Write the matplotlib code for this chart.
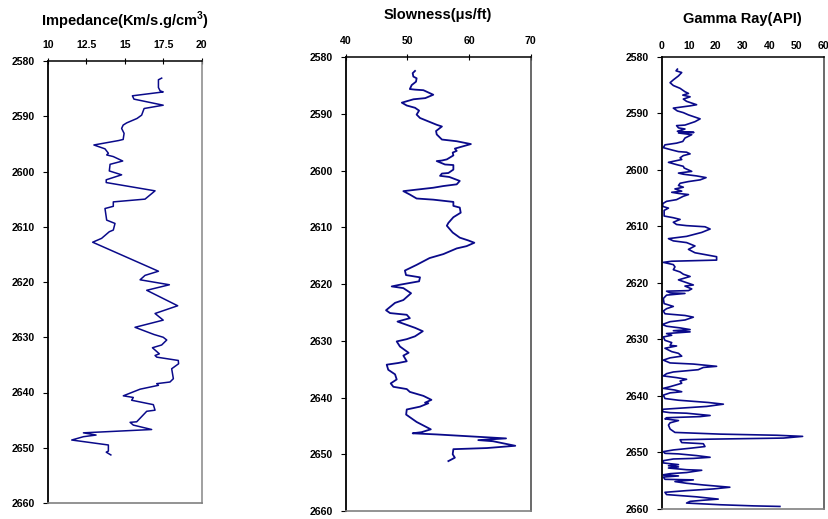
import matplotlib
matplotlib.use("Agg")
import matplotlib.pyplot as plt

plt.rcParams['font.family'] = ['Liberation Sans', 'DejaVu Sans']

# ---------------- data ----------------
imp_val = [17.40, 17.19, 17.19, 17.3, 17.5, 15.5, 15.6, 17.5, 16.26, 16.1, 15.8, 15.13, 14.9, 14.8,
           14.96, 14.9, 14.6, 13.0, 13.72, 13.94, 13.83, 14.26, 14.87, 14.05, 14.0, 14.8, 13.8, 13.8,
           16.97, 16.32, 14.26, 14.26, 13.72, 13.83, 14.37, 14.26, 14.0, 13.5, 12.92,
           17.19, 16.32, 16.0, 17.9, 16.43, 18.44, 16.97, 17.5, 15.67, 16.9, 17.5, 17.73, 17.4,
           16.8, 17.25, 16.97, 17.08, 18.48, 18.5, 18.05, 18.16, 17.94, 17.08, 17.19, 16.0, 14.91,
           15.56, 15.45, 16.86, 16.97, 16.43, 15.78, 15.35, 15.56, 16.75, 12.32, 13.14, 12.32,
           11.56, 13.94, 13.94, 13.8, 14.1]
imp_depth = [2583.1, 2583.4, 2584.8, 2585.4, 2585.6, 2586.3, 2586.9, 2588.0, 2588.6, 2589.8, 2590.4,
             2591.2, 2591.6, 2592.2, 2593.1, 2594.2, 2594.4, 2595.2, 2595.9, 2596.7, 2597.0, 2597.3,
             2598.1, 2598.7, 2599.9, 2600.6, 2601.5, 2602.0, 2603.5, 2605.0, 2605.5, 2606.3, 2606.7,
             2608.8, 2609.4, 2610.6, 2610.9, 2612.1, 2612.8,
             2618.05, 2618.8, 2619.6, 2620.5, 2621.5, 2624.3, 2625.7, 2626.9, 2628.2, 2629.5, 2630.0,
             2630.5, 2631.4, 2631.9, 2633.0, 2633.3, 2633.6, 2634.2, 2634.8, 2635.7, 2637.5, 2638.1,
             2638.4, 2638.7, 2639.4, 2640.6, 2640.9, 2641.4, 2642.2, 2643.2, 2643.4, 2645.3, 2645.4,
             2645.9, 2646.7, 2647.3, 2647.7, 2648.0, 2648.6, 2649.5, 2650.6, 2650.8, 2651.3]

slow_val = [51.24, 50.86, 50.97, 51.5, 51.4, 50.7, 50.4, 51.24, 52.6, 54.2, 52.9, 51.0, 49.1, 49.9,
            51.24, 51.9, 51.5, 52.05, 53.4, 54.76, 55.6, 54.65, 54.76, 55.6, 58.0, 60.3, 57.7, 58.0,
            57.35, 57.46, 56.4, 55.6, 54.76, 56.1, 57.46, 57.46, 56.65, 55.6, 55.3, 56.8, 58.5, 58.0,
            55.84, 54.2, 50.97, 49.35, 50.4, 51.5, 54.2, 57.46, 57.46, 58.5, 58.65, 57.46, 56.65,
            56.4, 57.35, 58.5, 59.9, 60.86, 59.6, 58.0, 55.84, 53.6,
            51.5, 49.6, 49.78, 52.05, 51.9, 48.8, 47.46, 49.35, 50.6, 49.35, 48.0, 46.54, 47.19,
            49.9, 50.4, 48.4, 51.24, 52.5, 51.24, 49.9, 48.27, 48.8, 50.2, 49.35, 49.9, 48.54, 46.65,
            46.9, 48.0, 48.27, 47.3, 47.73, 49.9, 50.4, 52.6, 53.9, 52.86, 53.4, 52.05, 49.9, 49.8,
            51.5, 53.8, 52.3, 50.86, 54.76, 66.0, 61.5, 63.9, 67.5, 62.9, 57.46, 57.35, 57.7, 56.65]
slow_depth = [2582.4, 2582.8, 2583.4, 2583.7, 2584.3, 2584.9, 2585.6, 2585.7, 2585.8, 2586.6, 2587.2,
              2587.4, 2588.0, 2588.5, 2588.9, 2589.4, 2590.1, 2590.7, 2591.3, 2591.9, 2592.2, 2593.0,
              2593.6, 2594.5, 2594.8, 2595.3, 2596.1, 2596.5, 2596.8, 2597.3, 2598.0, 2598.2, 2598.3,
              2598.9, 2599.0, 2599.8, 2600.4, 2600.5, 2600.9, 2601.1, 2601.8, 2602.4, 2602.7, 2603.0,
              2603.4, 2603.6, 2604.2, 2604.9, 2605.1, 2605.5, 2606.2, 2606.5, 2607.4, 2608.2, 2609.2,
              2609.7, 2610.9, 2611.8, 2612.3, 2612.7, 2613.3, 2613.7, 2614.7, 2615.4,
              2616.6, 2617.6, 2618.4, 2618.8, 2619.5, 2620.1, 2620.4, 2620.7, 2621.6, 2622.8, 2623.3,
              2624.6, 2625.1, 2625.4, 2626.0, 2626.6, 2627.7, 2628.3, 2629.2, 2629.7, 2630.1, 2631.0,
              2632.1, 2632.6, 2633.6, 2633.9, 2634.2, 2635.1, 2635.9, 2636.8, 2637.5, 2638.1, 2638.5,
              2639.0, 2639.7, 2640.4, 2640.9, 2641.0, 2641.6, 2642.1, 2643.0, 2644.3, 2645.6, 2646.1,
              2646.3, 2646.5, 2647.2, 2647.5, 2647.7, 2648.5, 2648.9, 2649.1, 2650.0, 2650.6, 2651.2]

gr_val = [5.8, 5.3, 7.4, 6.2, 4.3, 3.1, 4.3, 6.8, 8.6, 9.9, 7.8, 10.5, 8.0, 9.2, 12.9, 10.5, 4.3, 5.8,
          8.0, 9.9, 12.3, 14.2, 12.3, 8.6, 5.5, 6.2, 8.6, 5.8, 11.9, 6.2, 11.1, 8.6, 7.8, 5.5, 1.2, 0.6,
          3.7, 6.2, 9.2, 10.5, 8.0, 6.8, 7.4, 2.5, 5.5, 8.0, 8.3, 11.1, 6.2, 8.0, 12.9, 16.4, 14.2, 9.9,
          6.8, 6.2, 8.0, 4.9, 7.4, 3.7, 6.2, 9.9, 8.0, 5.5, 1.8, 0.4, 0.4, 2.5, 0.9, 0.9, 4.3, 6.8, 4.3,
          5.5, 9.2, 16.0, 17.9, 14.8, 9.2, 2.5, 4.3, 9.2, 12.3, 9.9, 12.3, 20.3, 20.3,
          3.7, 0.6, 4.3, 4.9, 4.3, 6.8, 8.0, 10.5, 6.2, 8.6, 11.7, 8.6, 11.1, 9.9, 1.8, 3.1, 8.6, 1.8,
          0.6, 0.9, 4.3, 1.8, 0.6, 1.2, 8.6, 11.7, 8.6, 3.1, 0.2, 1.8, 6.8, 10.5, 4.3, 10.5, 1.8, 3.7,
          0.6, 1.2, 3.7, 3.1, 5.5, 1.2, 3.7, 6.2, 7.4, 3.1, 0.6, 3.1, 11.7, 20.3, 15.4, 13.5, 4.3, 1.8,
          0.6, 5.5, 9.2, 6.8, 7.4, 3.1, 0.6, 4.9, 7.4, 3.1, 0.6, 1.2, 6.2, 17.2, 22.8, 16.6, 6.8, 0.6,
          0.0, 3.1, 9.2, 13.5, 17.9, 14.2, 1.8, 1.2, 6.2, 3.1, 2.5, 3.1, 4.9, 21.6, 42.5, 52.1, 45.0,
          16.6, 6.8, 7.4, 15.4, 16.0, 10.5, 4.3, 0.6, 1.2, 6.2, 12.9, 17.9, 11.7, 4.3, 0.6, 0.6, 6.2,
          2.5, 6.2, 2.5, 9.2, 14.8, 9.2, 3.1, 0.6, 6.2, 0.6, 1.2, 11.7, 4.9, 9.2, 15.4, 25.2, 19.1,
          9.2, 1.2, 1.8, 12.9, 20.9, 15.4, 10.5, 9.2, 21.6, 33.9, 43.7]
gr_depth = [2582.2, 2582.5, 2582.8, 2583.4, 2584.1, 2584.6, 2585.1, 2585.6, 2586.2, 2586.5, 2586.8,
            2587.1, 2587.5, 2587.9, 2588.5, 2588.7, 2589.1, 2589.6, 2589.9, 2590.3, 2590.7, 2591.0,
            2591.5, 2592.1, 2592.2, 2592.6, 2592.8, 2593.2, 2593.4, 2593.5, 2593.8, 2594.4, 2595.0,
            2595.3, 2595.6, 2596.1, 2596.5, 2596.8, 2596.9, 2597.2, 2597.5, 2597.9, 2598.2, 2598.7,
            2599.1, 2599.4, 2599.7, 2600.3, 2600.6, 2600.8, 2601.1, 2601.4, 2601.8, 2602.1, 2602.4,
            2602.8, 2603.1, 2603.4, 2603.8, 2604.0, 2604.2, 2604.4, 2604.7, 2605.3, 2605.6, 2606.0,
            2606.5, 2606.8, 2607.2, 2608.2, 2608.5, 2608.8, 2609.3, 2609.7, 2609.9, 2610.1, 2610.5,
            2611.1, 2611.8, 2612.2, 2612.6, 2612.9, 2613.5, 2614.1, 2614.7, 2615.4, 2616.0,
            2616.2, 2616.4, 2616.8, 2617.2, 2617.7, 2618.1, 2618.5, 2618.9, 2619.5, 2619.9, 2620.4,
            2620.6, 2621.1, 2621.4, 2621.5, 2621.8, 2621.9, 2622.2, 2622.8, 2623.7, 2624.2, 2624.6,
            2625.0, 2625.5, 2625.8, 2626.1, 2626.6, 2626.9, 2627.4, 2627.7, 2628.0, 2628.3, 2628.5,
            2628.7, 2629.0, 2629.3, 2629.6, 2630.2, 2630.6, 2631.1, 2631.2, 2631.6, 2632.2, 2632.5,
            2633.0, 2633.3, 2633.7, 2634.2, 2634.4, 2634.8, 2635.0, 2635.4, 2635.8, 2636.1, 2636.5,
            2636.8, 2637.1, 2637.4, 2637.8, 2638.4, 2638.7, 2639.0, 2639.3, 2639.5, 2639.9, 2640.5,
            2640.8, 2641.2, 2641.5, 2641.9, 2642.2, 2642.4, 2642.8, 2643.0, 2643.1, 2643.3, 2643.5,
            2643.7, 2643.9, 2644.1, 2644.4, 2644.8, 2645.2, 2645.9, 2646.5, 2646.8, 2647.0, 2647.2,
            2647.5, 2647.7, 2647.8, 2648.3, 2648.5, 2649.0, 2649.3, 2649.6, 2649.9, 2650.2, 2650.3,
            2650.6, 2650.9, 2651.1, 2651.2, 2651.5, 2651.9, 2652.2, 2652.4, 2652.6, 2652.8, 2653.1,
            2653.2, 2653.6, 2653.8, 2654.0, 2654.2, 2654.4, 2654.8, 2654.9, 2655.2, 2655.5, 2655.8,
            2656.2, 2656.5, 2656.8, 2657.1, 2657.5, 2657.9, 2658.3, 2658.5, 2658.7, 2659.0, 2659.3,
            2659.5, 2659.6]

depth_ticks = [2580, 2590, 2600, 2610, 2620, 2630, 2640, 2650, 2660]
imp_ticks = [10, 12.5, 15, 17.5, 20]
imp_labels = ['10', '12.5', '15', '17.5', '20']
slow_ticks = [40, 50, 60, 70]
gr_ticks = [0, 10, 20, 30, 40, 50, 60]

titles = ['Impedance(Km/s.g/cm$^{\\mathregular{3}}$)', 'Slowness(\u03bcs/ft)', 'Gamma Ray(API)']

# ---------------- figure ----------------
W, H = 829, 519
fig = plt.figure(figsize=(W / 100, H / 100), dpi=100)

def px_axes(x0, x1, y0, y1):
    return fig.add_axes([x0 / W, 1 - y1 / H, (x1 - x0) / W, (y1 - y0) / H])

ax1 = px_axes(47.7, 201.7, 61, 503)
ax2 = px_axes(345.7, 530.7, 57.3, 511)
ax3 = px_axes(661.7, 824, 56.7, 508.7)

line_color = '#0a0a8a'
tick_font = dict(fontsize=7.6, fontweight='bold')

def style(ax, xlim, xticks, xlabels, title, title_y, xtick_len, right_color):
    ax.set_xlim(*xlim)
    ax.set_ylim(2660, 2580)
    ax.xaxis.tick_top()
    ax.set_xticks(xticks)
    ax.set_xticklabels(xlabels, **tick_font)
    ax.set_yticks(depth_ticks)
    ax.set_yticklabels([str(d) for d in depth_ticks], **tick_font)
    ax.tick_params(axis='x', direction='inout', length=xtick_len, width=0.8, pad=6, colors='black')
    ax.tick_params(axis='y', direction='out', length=3.5, width=0.8, pad=6)
    ax.spines['left'].set_color('black')
    ax.spines['left'].set_linewidth(1.3)
    ax.spines['top'].set_color('black')
    ax.spines['top'].set_linewidth(1.1)
    ax.spines['right'].set_color(right_color)
    ax.spines['right'].set_linewidth(1.2)
    ax.spines['bottom'].set_color('#808080')
    ax.spines['bottom'].set_linewidth(1.2)
    fig.text(ax.get_position().x0 + ax.get_position().width / 2, 1 - title_y / H, title,
             ha='center', va='center', fontsize=10.5, fontweight='bold')

ax1.plot(imp_val, imp_depth, color=line_color, lw=1.1)
style(ax1, (10, 20), imp_ticks, imp_labels, titles[0], 21, 4, '#909090')

ax2.plot(slow_val, slow_depth, color=line_color, lw=1.3)
style(ax2, (40, 70), slow_ticks, [str(t) for t in slow_ticks], titles[1], 15, 4, '#505050')

ax3.plot(gr_val, gr_depth, color=line_color, lw=1.2)
style(ax3, (0, 60), gr_ticks, [str(t) for t in gr_ticks], titles[2], 19, 0, '#505050')
ax3.tick_params(axis='x', pad=4)

fig.savefig('out.png', dpi=100)
